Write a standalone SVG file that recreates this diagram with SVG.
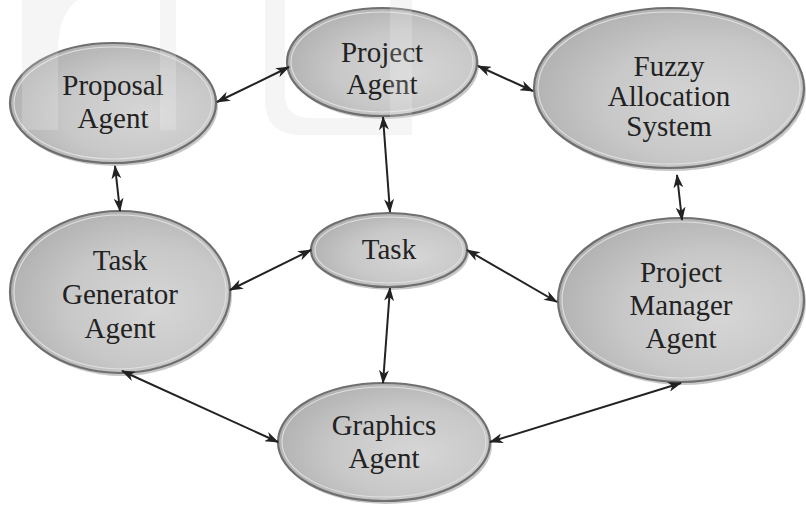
<svg xmlns="http://www.w3.org/2000/svg" xmlns:xlink="http://www.w3.org/1999/xlink" width="806" height="505" viewBox="0 0 806 505">
<style>
  .node-shadow { fill: #c8c8c8; }
  .node-body { fill: url(#nodeFill); stroke: #6f6f6f; stroke-width: 2.2; }
  .node-rim { fill: none; stroke: #e0e0e0; stroke-width: 1.1; }
  text { font-family: "Liberation Serif", "Tinos", "Times New Roman", Times, "DejaVu Serif", serif; font-size: 29px; fill: #222222; text-anchor: middle; }
  .edge { stroke: #222222; stroke-width: 2; fill: none; marker-start: url(#arrow); marker-end: url(#arrow); }
  .wm { fill: #f3f3f3; }
  .wm-over { fill: #ffffff; fill-opacity: 0.18; }
</style>
<defs>
  <radialGradient id="nodeFill" cx="0.62" cy="0.58" r="0.62" fx="0.66" fy="0.6">
    <stop offset="0" stop-color="#d6d6d6"/>
    <stop offset="0.6" stop-color="#c8c8c8"/>
    <stop offset="1" stop-color="#b3b3b3"/>
  </radialGradient>
  <marker id="arrow" viewBox="0 0 14 10" refX="13" refY="5" markerWidth="14" markerHeight="10" markerUnits="userSpaceOnUse" orient="auto-start-reverse">
    <path d="M0,0 L14,5 L0,10 L4,5 Z" fill="#222222"/>
  </marker>
  <path id="wmShape" d="M22,0 H58 V130 H22 Z M58,0 H78 Q60,12 58,45 Z M160,0 H176 V130 H160 Z M265,0 H285 V95 Q285,118 312,118 H390 V0 H412 V135 H302 Q265,135 265,100 Z"/>
</defs>

<g id="watermark">
  <use xlink:href="#wmShape" class="wm"/>
</g>

<g id="node-proposal">
  <ellipse class="node-shadow" cx="115" cy="106" rx="103" ry="60"/>
  <ellipse class="node-body" cx="113" cy="103" rx="103" ry="60"/>
  <ellipse class="node-rim" cx="113" cy="103" rx="99" ry="56"/>
  <text x="113" y="95">Proposal</text>
  <text x="113" y="128">Agent</text>
</g>

<g id="node-project">
  <ellipse class="node-shadow" cx="384" cy="65" rx="95" ry="54"/>
  <ellipse class="node-body" cx="382" cy="62" rx="95" ry="54"/>
  <ellipse class="node-rim" cx="382" cy="62" rx="91" ry="50"/>
  <text x="382" y="62">Project</text>
  <text x="382" y="94">Agent</text>
</g>

<g id="node-fuzzy">
  <ellipse class="node-shadow" cx="671" cy="91" rx="135" ry="80"/>
  <ellipse class="node-body" cx="669" cy="88" rx="135" ry="80"/>
  <ellipse class="node-rim" cx="669" cy="88" rx="131" ry="76"/>
  <text x="669" y="76">Fuzzy</text>
  <text x="669" y="106">Allocation</text>
  <text x="669" y="136">System</text>
</g>

<g id="node-taskgen">
  <ellipse class="node-shadow" cx="122" cy="295" rx="110" ry="81"/>
  <ellipse class="node-body" cx="120" cy="292" rx="110" ry="81"/>
  <ellipse class="node-rim" cx="120" cy="292" rx="106" ry="77"/>
  <text x="120" y="270">Task</text>
  <text x="120" y="304">Generator</text>
  <text x="120" y="338">Agent</text>
</g>

<g id="node-task">
  <ellipse class="node-shadow" cx="391" cy="253" rx="78" ry="37"/>
  <ellipse class="node-body" cx="389" cy="250" rx="78" ry="37"/>
  <ellipse class="node-rim" cx="389" cy="250" rx="74" ry="33"/>
  <text x="389" y="259">Task</text>
</g>

<g id="node-pm">
  <ellipse class="node-shadow" cx="683" cy="303" rx="123" ry="82"/>
  <ellipse class="node-body" cx="681" cy="300" rx="123" ry="82"/>
  <ellipse class="node-rim" cx="681" cy="300" rx="119" ry="78"/>
  <text x="681" y="282">Project</text>
  <text x="681" y="315">Manager</text>
  <text x="681" y="348">Agent</text>
</g>

<g id="node-graphics">
  <ellipse class="node-shadow" cx="386" cy="445" rx="106" ry="59"/>
  <ellipse class="node-body" cx="384" cy="442" rx="106" ry="59"/>
  <ellipse class="node-rim" cx="384" cy="442" rx="102" ry="55"/>
  <text x="384" y="435">Graphics</text>
  <text x="384" y="468">Agent</text>
</g>

<g id="watermark-overlay">
  <use xlink:href="#wmShape" class="wm-over"/>
</g>

<g id="connectors">
  <line class="edge" x1="217" y1="102" x2="289" y2="67"/>
  <line class="edge" x1="478" y1="66" x2="533" y2="91"/>
  <line class="edge" x1="115" y1="166" x2="120" y2="211"/>
  <line class="edge" x1="383" y1="117" x2="390" y2="212"/>
  <line class="edge" x1="677" y1="175" x2="682" y2="220"/>
  <line class="edge" x1="230" y1="290" x2="311" y2="250"/>
  <line class="edge" x1="467" y1="250" x2="557" y2="302"/>
  <line class="edge" x1="390" y1="288" x2="383" y2="383"/>
  <line class="edge" x1="122" y1="371" x2="278" y2="442"/>
  <line class="edge" x1="490" y1="442" x2="681" y2="383"/>
</g>
</svg>
